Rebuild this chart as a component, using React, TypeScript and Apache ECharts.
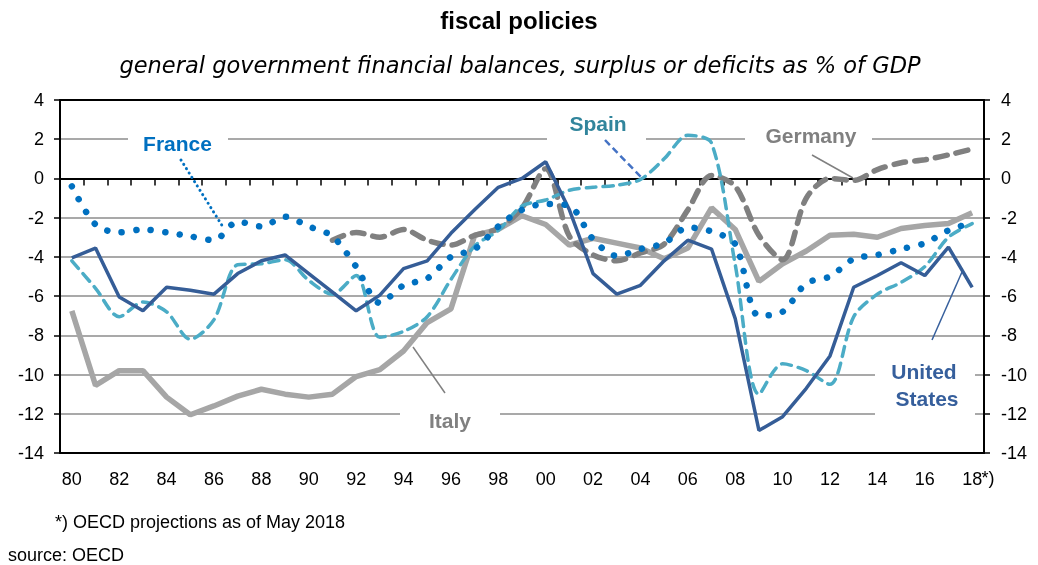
import React, { useEffect, useRef } from "react";
import * as echarts from "echarts";

const years = ["80","81","82","83","84","85","86","87","88","89","90","91","92","93","94","95","96","97","98","99","00","01","02","03","04","05","06","07","08","09","10","11","12","13","14","15","16","17","18"];

const france = [-0.4,-2.35,-2.75,-2.6,-2.75,-2.95,-3.15,-2.2,-2.45,-1.95,-2.45,-2.95,-4.5,-6.35,-5.45,-5.1,-4.0,-3.6,-2.45,-1.6,-1.3,-1.4,-3.1,-3.95,-3.6,-3.3,-2.5,-2.7,-3.35,-7.0,-6.8,-5.35,-5.0,-4.1,-3.9,-3.6,-3.3,-2.65,-2.25];

const germany = [null,null,null,null,null,null,null,null,null,null,null,-3.15,-2.75,-3.0,-2.6,-3.15,-3.4,-2.9,-2.55,-1.5,0.5,-2.95,-3.9,-4.2,-3.8,-3.35,-1.6,0.15,-0.4,-2.9,-4.15,-1.0,0.0,-0.1,0.45,0.8,0.95,1.2,1.5];

const spain = [-4.2,-5.6,-7.05,-6.3,-6.8,-8.2,-7.2,-4.4,-4.35,-4.15,-5.2,-5.9,-4.95,-8.1,-7.8,-7.05,-5.15,-3.45,-2.65,-1.4,-1.1,-0.6,-0.45,-0.35,-0.05,1.0,2.2,1.8,-4.4,-11.0,-9.45,-9.8,-10.5,-7.05,-5.9,-5.3,-4.5,-3.0,-2.3];

const italy = [-6.75,-10.55,-9.8,-9.8,-11.15,-12.05,-11.6,-11.1,-10.75,-11.0,-11.15,-11.0,-10.1,-9.75,-8.8,-7.35,-6.65,-2.9,-2.6,-1.9,-2.35,-3.4,-3.05,-3.3,-3.55,-4.1,-3.55,-1.5,-2.6,-5.25,-4.35,-3.7,-2.9,-2.85,-3.0,-2.55,-2.4,-2.3,-1.75];

const unitedStates = [-4.05,-3.55,-6.05,-6.75,-5.55,-5.7,-5.9,-4.85,-4.2,-3.9,-4.85,-5.8,-6.75,-5.95,-4.6,-4.2,-2.8,-1.6,-0.45,0.0,0.85,-1.6,-4.85,-5.9,-5.45,-4.2,-3.15,-3.6,-7.15,-12.85,-12.15,-10.7,-9.05,-5.55,-4.95,-4.3,-4.95,-3.5,-5.55];

const yMin = -14;
const yMax = 4;
const yStep = 2;

const FONT = '"Liberation Sans", Arial, sans-serif';

export default function App() {
  const ref = useRef<HTMLDivElement>(null);
  useEffect(() => {
    if (!ref.current) return;
    const chart = echarts.init(ref.current, null, { renderer: "svg" });
    const axisLabelStyle = { color: "#000", fontSize: 18, fontFamily: FONT };
    const textEl = (text: string, x: number, y: number, font: string, fill: string) => ({
      type: "text",
      x,
      y,
      z: 20,
      style: {
        text,
        fill,
        font,
        textAlign: "center",
        textVerticalAlign: "middle",
        align: "center",
        verticalAlign: "middle",
      },
    });
    const whiteBox = (x: number, y: number, w: number, h: number) => ({
      type: "rect",
      z: 1,
      shape: { x, y, width: w, height: h },
      style: { fill: "#ffffff" },
    });
    const leader = (x1: number, y1: number, x2: number, y2: number, stroke: string, lineWidth: number, lineDash?: number[]) => ({
      type: "line",
      z: 20,
      shape: { x1, y1, x2, y2 },
      style: { stroke, lineWidth, lineDash, lineCap: lineDash && lineDash[0] < 1 ? "round" : "butt" },
    });
    const boldLabel = 'bold 21px "Liberation Sans", Arial, sans-serif';
    chart.setOption({
      animation: false,
      grid: { left: 60, right: 54, top: 100, bottom: 112, show: false },
      xAxis: [
        {
          type: "category",
          data: years,
          boundaryGap: true,
          axisLine: { show: true, onZero: true, lineStyle: { color: "#000", width: 2 } },
          axisTick: { show: true, interval: 0, length: 7, lineStyle: { color: "#000", width: 1.5 } },
          axisLabel: { show: false },
          splitLine: { show: false },
        },
        {
          type: "category",
          data: years,
          position: "bottom",
          boundaryGap: true,
          axisLine: { show: true, onZero: false, lineStyle: { color: "#000", width: 2 } },
          axisTick: { show: false },
          axisLabel: { ...axisLabelStyle, interval: 1, margin: 17 },
          splitLine: { show: false },
        },
        {
          type: "category",
          data: years,
          position: "top",
          boundaryGap: true,
          axisLine: { show: true, onZero: false, lineStyle: { color: "#000", width: 2 } },
          axisTick: { show: false },
          axisLabel: { show: false },
          splitLine: { show: false },
        },
      ],
      yAxis: [
        {
          type: "value",
          min: yMin,
          max: yMax,
          interval: yStep,
          position: "left",
          axisLine: { show: true, onZero: false, lineStyle: { color: "#000", width: 2 } },
          axisTick: { show: true, length: 6, lineStyle: { color: "#000", width: 1.5 } },
          axisLabel: { ...axisLabelStyle, margin: 16 },
          splitLine: { show: true, lineStyle: { color: "#8c8c8c", width: 1.5 } },
        },
        {
          type: "value",
          min: yMin,
          max: yMax,
          interval: yStep,
          position: "right",
          axisLine: { show: true, onZero: false, lineStyle: { color: "#000", width: 2 } },
          axisTick: { show: true, length: 6, lineStyle: { color: "#000", width: 1.5 } },
          axisLabel: { ...axisLabelStyle, margin: 17 },
          splitLine: { show: false },
        },
      ],
      series: [
        {
          name: "Italy",
          type: "line",
          data: italy,
          symbol: "none",
          lineStyle: { color: "#a6a6a6", width: 5.5 },
          z: 2,
        },
        {
          name: "Germany",
          type: "line",
          data: germany,
          symbol: "none",
          smooth: 0.3,
          lineStyle: { color: "#808080", width: 5.5, type: [12, 9], cap: "round" },
          z: 3,
        },
        {
          name: "Spain",
          type: "line",
          data: spain,
          symbol: "none",
          smooth: 0.3,
          lineStyle: { color: "#4bacc6", width: 3.5, type: [10, 7], cap: "round" },
          z: 4,
        },
        {
          name: "United States",
          type: "line",
          data: unitedStates,
          symbol: "none",
          lineStyle: { color: "#355d97", width: 3.5 },
          z: 5,
        },
        {
          name: "France",
          type: "line",
          data: france,
          symbol: "none",
          smooth: 0.3,
          lineStyle: { color: "#0070c0", width: 6.5, type: [0.1, 14.5], cap: "round" },
          z: 6,
        },
      ],
      graphic: [
        textEl("fiscal policies", 519, 20, 'bold 24px "Liberation Sans", Arial, sans-serif', "#000"),
        textEl("general government financial balances, surplus or deficits as % of GDP", 520, 65, 'italic 22.5px "DejaVu Sans", sans-serif', "#000"),
        whiteBox(128, 129, 100, 24),
        whiteBox(547, 112, 99, 30),
        whiteBox(745, 122, 127, 26),
        whiteBox(400, 405, 100, 28),
        whiteBox(875, 356, 100, 62),
        textEl("France", 177.5, 143, boldLabel, "#0070c0"),
        textEl("Spain", 598, 123, boldLabel, "#31859c"),
        textEl("Germany", 811, 135, boldLabel, "#808080"),
        textEl("Italy", 450, 420, boldLabel, "#808080"),
        textEl("United", 924, 371, boldLabel, "#365f9c"),
        textEl("States", 927, 398, boldLabel, "#365f9c"),
        leader(181, 160, 223, 227, "#0070c0", 3, [0.1, 5]),
        leader(605, 140, 643, 179, "#4472c4", 2.5, [7, 4]),
        leader(812, 155, 853, 178, "#808080", 1.5),
        leader(413, 347, 445, 393, "#808080", 1.5),
        leader(932, 340, 962, 272, "#365f9c", 1.5),
        textEl("*)", 988, 478, '18px "Liberation Sans", Arial, sans-serif', "#000"),
        {
          type: "text",
          x: 55,
          y: 522,
          z: 20,
          style: { text: "*) OECD projections as of May 2018", fill: "#000", font: '18px "Liberation Sans", Arial, sans-serif', textVerticalAlign: "middle", verticalAlign: "middle" },
        },
        {
          type: "text",
          x: 8,
          y: 555,
          z: 20,
          style: { text: "source: OECD", fill: "#000", font: '18px "Liberation Sans", Arial, sans-serif', textVerticalAlign: "middle", verticalAlign: "middle" },
        },
      ],
    });
    return () => chart.dispose();
  }, []);
  return <div ref={ref} style={{ position: "fixed", left: 0, top: 0, width: 1038, height: 565 }} />;
}
